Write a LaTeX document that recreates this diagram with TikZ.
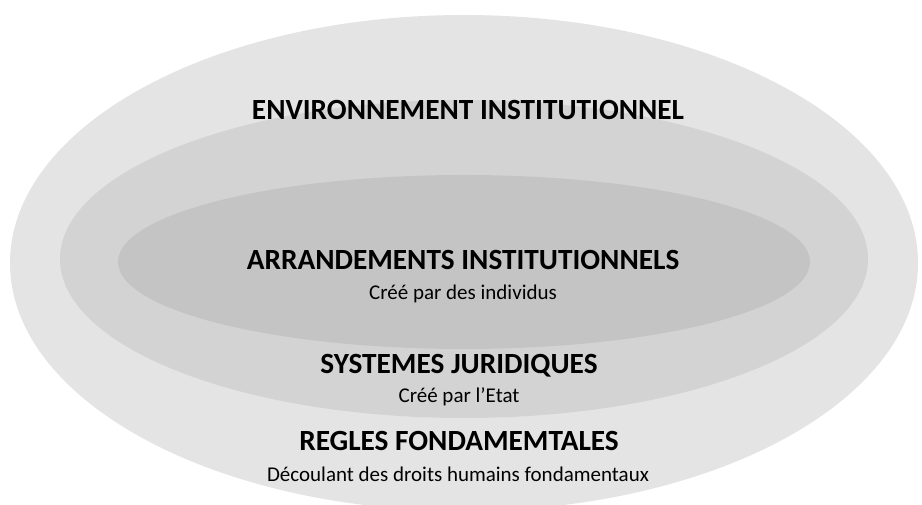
\documentclass[tikz,border=0pt]{standalone}
\usepackage{fontspec}
\setmainfont{Carlito}
\definecolor{outerring}{RGB}{228,228,228}
\definecolor{middlering}{RGB}{211,211,211}
\definecolor{innerring}{RGB}{196,196,196}

\begin{document}
\begin{tikzpicture}[x=1pt,y=-1pt,
  every node/.style={inner sep=0pt,anchor=center},
  title/.style={font=\fontsize{29.3}{31}\selectfont\bfseries},
  subtitle/.style={font=\fontsize{21}{23}\selectfont}]
\useasboundingbox (0,0) rectangle (922,505);
\coordinate (Outercenter) at (464,263);
\coordinate (Middlecenter) at (464,259);
\coordinate (Innercenter) at (464,262);

\begin{scope}
\clip (0,0) rectangle (922,505);
\fill[outerring] (Outercenter) ellipse [x radius=454,y radius=248];
\fill[middlering] (Middlecenter) ellipse [x radius=404,y radius=159];
\fill[innerring] (Innercenter) ellipse [x radius=346,y radius=87];
\end{scope}

\node[title] (env) at (468,110) {ENVIRONNEMENT INSTITUTIONNEL};
\node[title] (arr) at (463,260) {ARRANDEMENTS INSTITUTIONNELS};
\node[subtitle] (arrsub) at (463,294) {Créé par des individus};
\node[title] (jur) at (459,366) {SYSTEMES JURIDIQUES};
\node[subtitle] (jursub) at (459,397) {Créé par l’Etat};
\node[title] (regles) at (459,441) {REGLES FONDAMEMTALES};
\node[subtitle] (reglessub) at (458,474) {Découlant des droits humains fondamentaux};
\end{tikzpicture}
\end{document}
